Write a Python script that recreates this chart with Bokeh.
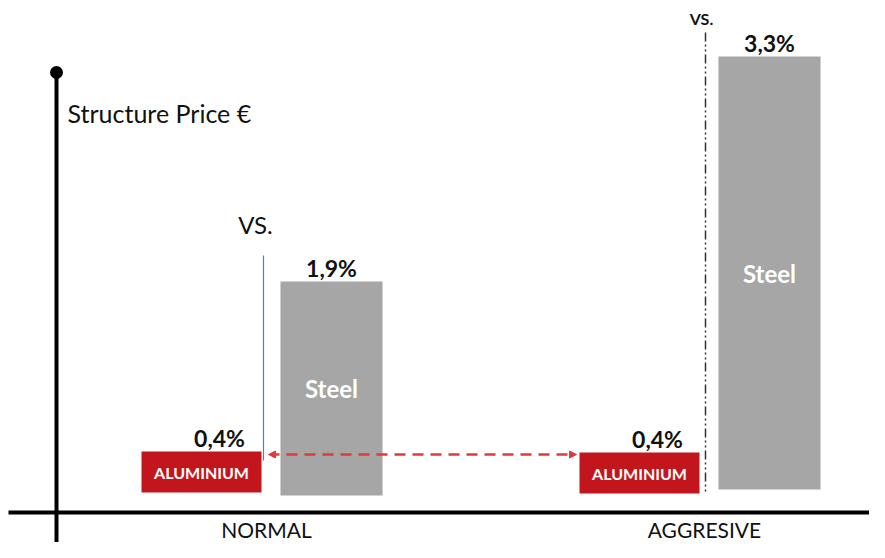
from bokeh.plotting import figure
from bokeh.models import ColumnDataSource, Range1d, Arrow, NormalHead
from bokeh.transform import dodge
from bokeh.core.properties import value
from bokeh.embed import file_html
from bokeh.resources import INLINE

# ---------------- data ----------------
categories = ["NORMAL", "AGGRESIVE"]
steel_pct = [1.9, 3.3]
alu_pct = [0.4, 0.4]
# schematic bar extents (not to scale in the original), in units above the x axis
steel_top = [231, 456]
steel_base = [17, 23]
alu_top = [61, 60]
alu_base = [20, 19]
steel_name = "Steel"
alu_name = "ALUMINIUM"
axis_title = "Structure Price €"
vs_text = "VS."


def fmt(v):
    return f"{v:.1f}%".replace(".", ",")


src = ColumnDataSource(dict(
    idx=[1, 2],
    cat=categories,
    steel_top=steel_top,
    steel_base=steel_base,
    steel_mid=[(t + b) / 2 for t, b in zip(steel_top, steel_base)],
    steel_lbl=[fmt(v) for v in steel_pct],
    steel_name=[steel_name] * 2,
    alu_top=alu_top,
    alu_base=alu_base,
    alu_mid=[(t + b) / 2 for t, b in zip(alu_top, alu_base)],
    alu_lbl=[fmt(v) for v in alu_pct],
    alu_name=[alu_name] * 2,
))

# ---------------- styles / layout ----------------
RED = "#c3161c"
GREY = "#a6a6a6"
ARROW_RED = "#e0393e"
FONT = value("Lato")
DODGE = 0.1484
ALU_W = 0.274
STEEL_W = 0.233

p = figure(width=869, height=542,
           x_range=Range1d(0.39269, 2.37671), y_range=Range1d(-30, 512),
           x_axis_type=None, y_axis_type=None,
           toolbar_location=None, output_backend="svg",
           min_border=0, outline_line_color=None,
           background_fill_color="white", border_fill_color="white")
p.grid.visible = False
p.extra_x_ranges = {"px": Range1d(0, 869)}
p.extra_y_ranges = {"px": Range1d(542, 0)}

x_alu = dodge("idx", -DODGE, range=p.x_range)
x_steel = dodge("idx", DODGE, range=p.x_range)

# bars
p.vbar(x=x_alu, width=ALU_W, top="alu_top", bottom="alu_base",
       fill_color=RED, line_color=None, source=src)
p.vbar(x=x_steel, width=STEEL_W, top="steel_top", bottom="steel_base",
       fill_color=GREY, line_color=None, source=src)

# names inside bars
p.text(x=x_alu, y="alu_mid", text="alu_name", source=src,
       text_align="center", text_baseline="middle", text_font=FONT,
       text_font_style="bold", text_font_size="16px", text_color="white")
p.text(x=x_steel, y="steel_mid", text="steel_name", source=src,
       text_align="center", text_baseline="middle", text_font=FONT,
       text_font_style="bold", text_font_size="24px", text_color="white")

# value labels
p.text(x=x_alu, y="alu_top", text="alu_lbl", source=src, x_offset=18,
       text_align="center", text_baseline="bottom", text_font=FONT,
       text_font_style="bold", text_font_size="23px", text_color="#111111")
p.text(x=x_steel, y="steel_top", text="steel_lbl", source=src,
       text_align="center", text_baseline="bottom", text_font=FONT,
       text_font_style="bold", text_font_size="23px", text_color="#111111")

# category labels
p.text(x="idx", y=-17, text="cat", source=src,
       text_align="center", text_baseline="middle", text_font=FONT,
       text_font_size="21px", text_color="#111111")

# drawn axes (pixel helper ranges)
kw = dict(x_range_name="px", y_range_name="px")
p.segment(x0=[56], y0=[72], x1=[56], y1=[560], line_color="black", line_width=4, **kw)
p.segment(x0=[8], y0=[512], x1=[884], y1=[512], line_color="black", line_width=4, **kw)
p.scatter(x=[56], y=[72], size=13, marker="circle", fill_color="black", line_color=None, **kw)
p.scatter(x=[883], y=[512], size=13, marker="circle", fill_color="black", line_color=None, **kw)

p.text(x=[67], y=[112], text=[axis_title], text_align="left", text_baseline="middle",
       text_font=FONT, text_font_size="25px", text_color="#111111", **kw)

# "vs." separators
p.segment(x0=[263], y0=[255], x1=[263], y1=[460], line_color="#4f81bd", line_width=1.2, **kw)
p.text(x=[255], y=[224], text=[vs_text], text_align="center", text_baseline="middle",
       text_font=FONT, text_font_size="24px", text_color="#111111", **kw)
p.segment(x0=[705], y0=[32], x1=[705], y1=[493], line_color="#333333", line_width=1.5,
          line_dash="9 3 2 3 2 3", **kw)
p.text(x=[701], y=[18], text=[vs_text], text_align="center", text_baseline="middle",
       text_font=FONT, text_font_style="bold", text_font_size="16px", text_color="#111111", **kw)

# dashed comparison arrow
p.add_layout(Arrow(x_start=268, y_start=454, x_end=576, y_end=454,
                   start=NormalHead(size=7, fill_color=ARROW_RED, line_color=ARROW_RED),
                   end=NormalHead(size=7, fill_color=ARROW_RED, line_color=ARROW_RED),
                   line_color=ARROW_RED, line_width=2.5, line_dash="11 7", **kw))

open("out.html", "w").write(file_html(p, INLINE))
